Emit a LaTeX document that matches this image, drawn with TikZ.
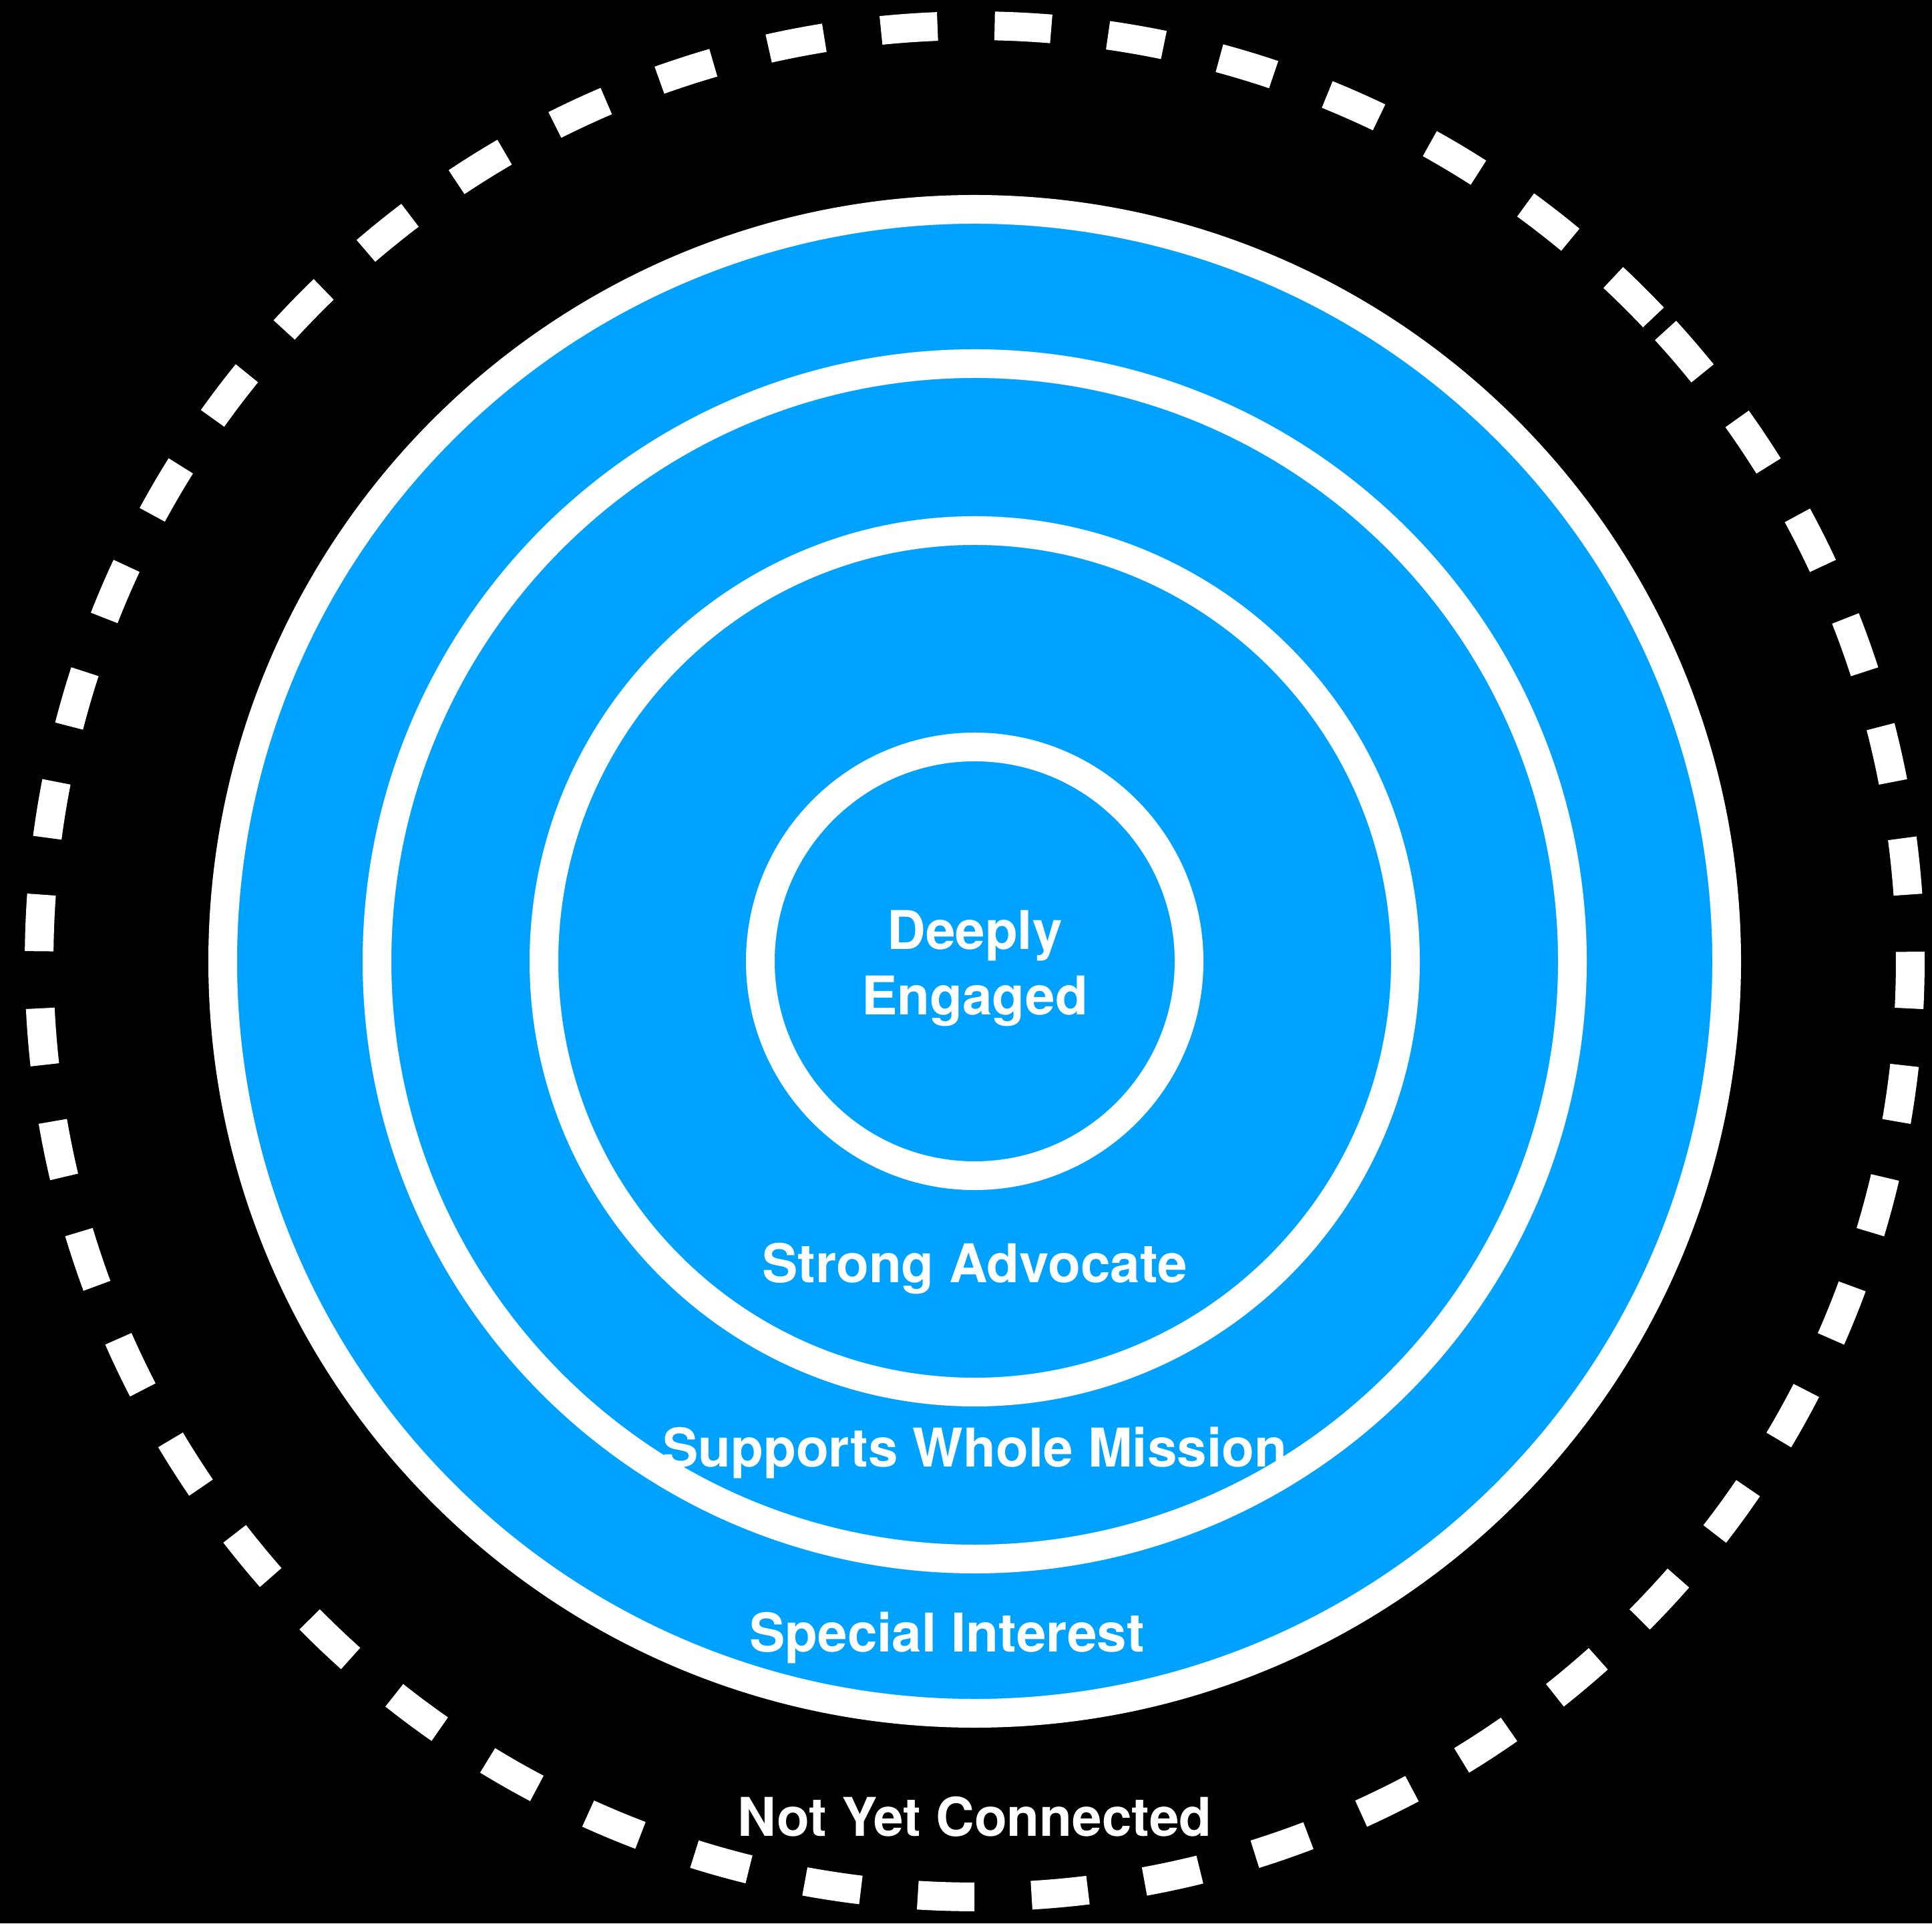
\documentclass[tikz,border=0pt]{standalone}
\usepackage{fontspec}
\setmainfont{TeX Gyre Heros}
\definecolor{ringblue}{HTML}{00A2FF}

\begin{document}
\begin{tikzpicture}[
    ring/.style={draw=white, line width=0.43cm, fill=ringblue},
    ringtext/.style={text=white, inner sep=0pt, anchor=base,
        font=\bfseries\fontsize{22.76pt}{27.88pt}\selectfont}
]
    \useasboundingbox (0,0) rectangle (28.93,28.80);
    \fill[black] (0,0) rectangle (28.93,28.80);
    \coordinate (c) at (14.595,14.405);
    \draw[white, line width=0.43cm, dash pattern=on 0.8485cm off 0.8558cm]
        (c) ++(42.4:14.01) arc[start angle=42.4, delta angle=-360, radius=14.01];
    \draw[ring] (c) circle[radius=11.26];
    \draw[ring] (c) circle[radius=8.95];
    \draw[ring] (c) circle[radius=6.45];
    \draw[ring] (c) circle[radius=3.21];
    \node[ringtext] (deeply) at (14.595,14.584) {Deeply};
    \node[ringtext] (engaged) at (14.595,13.601) {Engaged};
    \node[ringtext] (strong) at (14.595,9.595) {Strong Advocate};
    \node[ringtext] (whole) at (14.595,6.836) {Supports Whole Mission};
    \node[ringtext] (special) at (14.18,4.07) {Special Interest};
    \node[ringtext] (notyet) at (14.595,1.307) {Not Yet Connected};
\end{tikzpicture}
\end{document}
